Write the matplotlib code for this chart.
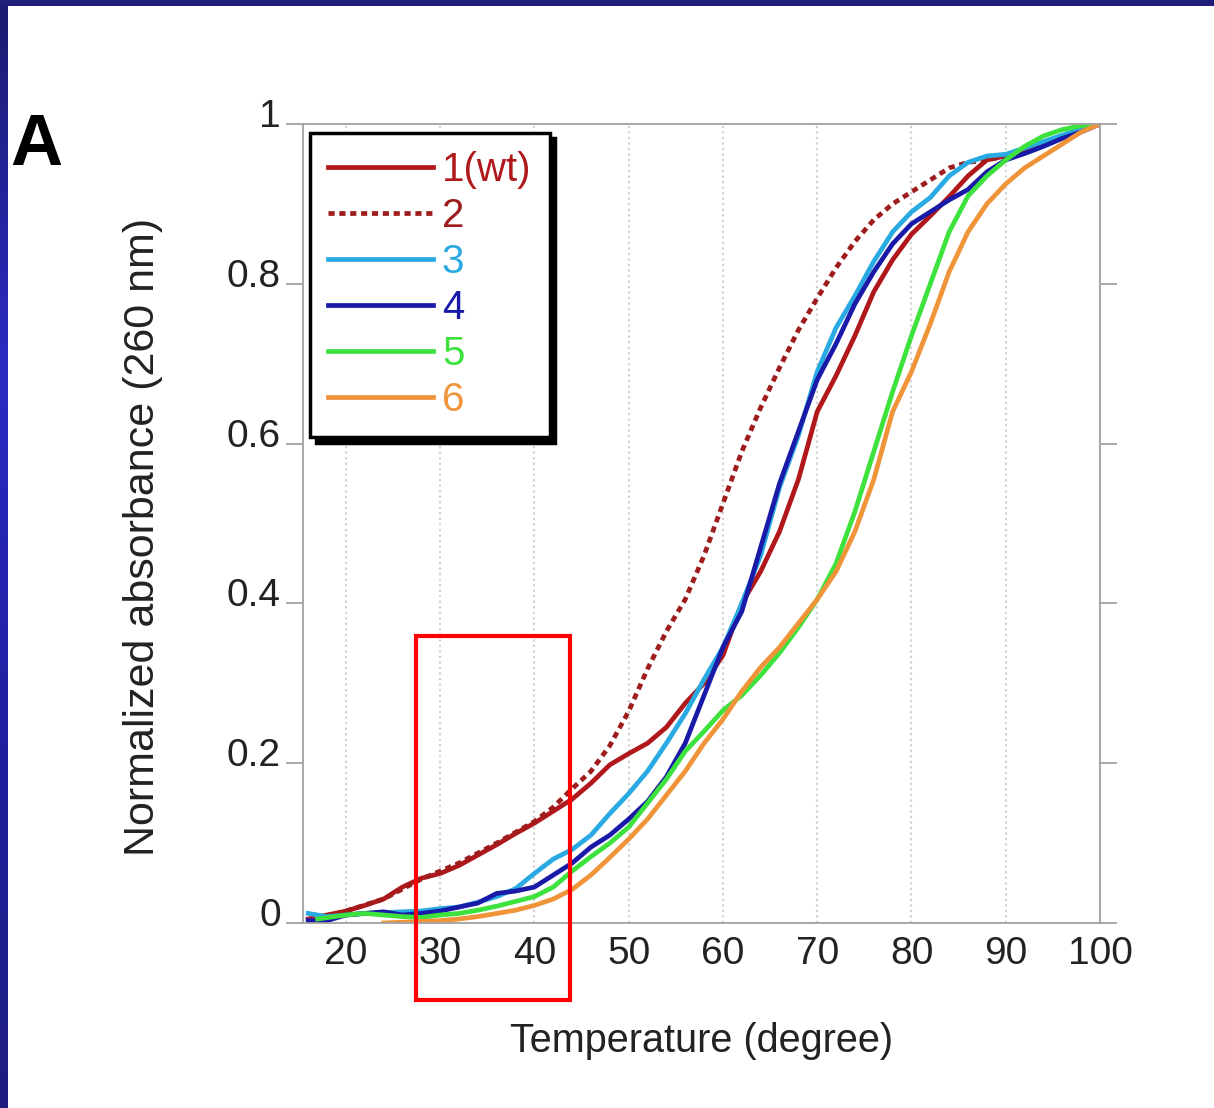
import numpy as np
import matplotlib
matplotlib.use("Agg")
import matplotlib.pyplot as plt
import matplotlib.patches as patches
import matplotlib.transforms as mtransforms
from matplotlib.colors import LinearSegmentedColormap

plt.rcParams['font.family'] = ['Liberation Sans', 'DejaVu Sans']

# melting curves, temperature (deg) vs normalized absorbance at 260 nm
T1 = [16, 18, 20, 22, 24, 26, 28, 30, 32, 34, 36, 38, 40, 42, 44, 46, 48, 50, 52, 54, 56, 58, 60, 62, 64, 66, 68, 70, 72, 74, 76, 78, 80, 82, 84, 86, 88, 90, 92, 94, 96, 98, 100]
A1 = [0.005, 0.01, 0.015, 0.022, 0.03, 0.045, 0.056, 0.062, 0.072, 0.085, 0.098, 0.112, 0.125, 0.14, 0.155, 0.175, 0.198, 0.212, 0.225, 0.245, 0.275, 0.30, 0.335, 0.40, 0.44, 0.49, 0.555, 0.64, 0.685, 0.735, 0.79, 0.83, 0.862, 0.885, 0.909, 0.935, 0.955, 0.96, 0.965, 0.975, 0.985, 0.993, 1.0]

T2 = [20, 24, 28, 32, 36, 40, 42, 44, 46, 48, 50, 52, 54, 56, 58, 60, 62, 64, 66, 68, 70, 72, 74, 76, 78, 80, 82, 84, 86, 88, 90, 92, 94, 96, 98, 100]
A2 = [0.015, 0.03, 0.055, 0.075, 0.1, 0.127, 0.145, 0.168, 0.19, 0.222, 0.265, 0.318, 0.365, 0.405, 0.46, 0.525, 0.59, 0.645, 0.695, 0.742, 0.782, 0.82, 0.853, 0.88, 0.9, 0.915, 0.93, 0.945, 0.952, 0.955, 0.96, 0.968, 0.975, 0.985, 0.993, 1.0]

T3 = [16, 18, 20, 22, 24, 26, 28, 30, 32, 34, 36, 38, 40, 42, 44, 46, 48, 50, 52, 54, 56, 58, 60, 62, 64, 66, 68, 70, 72, 74, 76, 78, 80, 82, 84, 86, 88, 90, 92, 94, 96, 98, 100]
A3 = [0.012, 0.008, 0.01, 0.012, 0.013, 0.014, 0.015, 0.018, 0.02, 0.026, 0.033, 0.043, 0.062, 0.08, 0.092, 0.11, 0.137, 0.162, 0.19, 0.225, 0.262, 0.305, 0.345, 0.40, 0.46, 0.545, 0.61, 0.69, 0.745, 0.785, 0.828, 0.865, 0.89, 0.908, 0.935, 0.952, 0.96, 0.962, 0.97, 0.978, 0.986, 0.994, 1.0]

T4 = [16, 18, 20, 22, 24, 26, 28, 30, 32, 34, 36, 38, 40, 42, 44, 46, 48, 50, 52, 54, 56, 58, 60, 62, 64, 66, 68, 70, 72, 74, 76, 78, 80, 82, 84, 86, 88, 90, 92, 94, 96, 98, 100]
A4 = [0.003, 0.003, 0.01, 0.012, 0.014, 0.01, 0.012, 0.015, 0.02, 0.025, 0.037, 0.04, 0.045, 0.06, 0.075, 0.095, 0.11, 0.13, 0.152, 0.183, 0.225, 0.285, 0.345, 0.39, 0.47, 0.55, 0.615, 0.68, 0.725, 0.775, 0.815, 0.85, 0.875, 0.89, 0.905, 0.918, 0.94, 0.955, 0.963, 0.972, 0.982, 0.99, 1.0]

T5 = [17, 20, 22, 24, 26, 28, 30, 32, 34, 36, 38, 40, 42, 44, 46, 48, 50, 52, 54, 56, 58, 60, 62, 64, 66, 68, 70, 72, 74, 76, 78, 80, 82, 84, 86, 88, 90, 92, 94, 96, 98, 100]
A5 = [0.005, 0.01, 0.012, 0.01, 0.008, 0.007, 0.01, 0.012, 0.016, 0.021, 0.027, 0.033, 0.045, 0.065, 0.083, 0.1, 0.12, 0.15, 0.18, 0.215, 0.24, 0.266, 0.285, 0.31, 0.338, 0.37, 0.405, 0.45, 0.515, 0.59, 0.665, 0.735, 0.8, 0.865, 0.91, 0.935, 0.955, 0.972, 0.985, 0.993, 0.998, 1.0]

T6 = [24, 28, 30, 32, 34, 36, 38, 40, 42, 44, 46, 48, 50, 52, 54, 56, 58, 60, 62, 64, 66, 68, 70, 72, 74, 76, 78, 80, 82, 84, 86, 88, 90, 92, 94, 96, 98, 100]
A6 = [0.0, 0.002, 0.003, 0.005, 0.008, 0.012, 0.016, 0.022, 0.03, 0.042, 0.06, 0.082, 0.105, 0.13, 0.16, 0.19, 0.225, 0.255, 0.29, 0.32, 0.345, 0.375, 0.405, 0.44, 0.49, 0.555, 0.64, 0.69, 0.75, 0.815, 0.865, 0.9, 0.925, 0.945, 0.96, 0.975, 0.99, 1.0]

labels = ['1(wt)', '2', '3', '4', '5', '6']
colors = ['#b0181b', '#9e1c1c', '#2aaae2', '#1a1aa8', '#3de23d', '#f0943a']
xticks = [20, 30, 40, 50, 60, 70, 80, 90, 100]
yticks = [0, 0.2, 0.4, 0.6, 0.8, 1]
ytick_labels = ['0', '0.2', '0.4', '0.6', '0.8', '1']

fig = plt.figure(figsize=(12.14, 11.08), dpi=100)
fig.patch.set_facecolor('white')

# blue slide border (left and top)
bar = fig.add_axes([0, 0, 8 / 1214, 1])
grad = np.linspace(0, 1, 256).reshape(-1, 1)
cm = LinearSegmentedColormap.from_list('b', ['#1c1c6e', '#2b2bc4', '#2020a0', '#1e1e80'])
bar.imshow(grad, aspect='auto', cmap=cm)
bar.axis('off')
top = fig.add_axes([0, 1 - 6 / 1108, 1, 6 / 1108])
top.set_facecolor('#1e1e78')
top.set_xticks([]); top.set_yticks([])
for s in top.spines.values():
    s.set_visible(False)

ax = fig.add_axes([303 / 1214, 185 / 1108, 797 / 1214, 799 / 1108])
data = [(T1, A1), (T2, A2), (T3, A3), (T4, A4), (T5, A5), (T6, A6)]
for i, (t, a) in enumerate(data):
    ls = (0, (1.3, 1.0)) if i == 1 else '-'
    ax.plot(t, a, color=colors[i], lw=3.4, linestyle=ls, label=labels[i])

ax.set_xlim(15.45, 100)
ax.set_ylim(0, 1)
ax.set_xticks(xticks)
ax.set_yticks(yticks)
ax.set_yticklabels(ytick_labels)
ax.grid(axis='x', color='#cfcfcf', linestyle=':', linewidth=1.5)
ax.tick_params(axis='x', length=0, pad=9, labelsize=28, labelcolor='#222222')
ax.tick_params(axis='y', direction='out', length=12, width=1.2, color='#999999',
               left=True, right=True, pad=4, labelsize=28, labelcolor='#222222')
for s in ax.spines.values():
    s.set_color('#a0a0a0')
    s.set_linewidth(1.3)

off = mtransforms.ScaledTranslation(0, 11 / 100, fig.dpi_scale_trans)
for lab in ax.get_yticklabels():
    lab.set_transform(lab.get_transform() + off)

ax.set_xlabel('Temperature (degree)', fontsize=28.5, color='#222222')
ax.xaxis.set_label_coords(0.5, -0.124)
ax.set_ylabel('Normalized absorbance (260 nm)', fontsize=31, color='#222222')
ax.yaxis.set_label_coords(-0.176, 0.483)

leg = ax.legend(loc='upper left', bbox_to_anchor=(0.009, 0.989), borderaxespad=0,
                fontsize=29, labelcolor='linecolor', handlelength=2.6,
                handletextpad=0.22, labelspacing=0.2, borderpad=0.45,
                fancybox=False, edgecolor='black',
                shadow={'ox': 4, 'oy': -4, 'facecolor': 'black', 'edgecolor': 'black', 'alpha': 1})
leg.get_frame().set_linewidth(2.5)
leg.get_frame().set_alpha(1)

# highlight box
rect = patches.Rectangle((27.42, -0.0964), 16.31, 0.4556, fill=False,
                         edgecolor='#ff0000', lw=3, clip_on=False, zorder=5)
ax.add_patch(rect)

fig.text(10 / 1214, 943 / 1108, 'A', fontsize=52, fontweight='bold', color='black')

fig.savefig('out.png', dpi=100)
